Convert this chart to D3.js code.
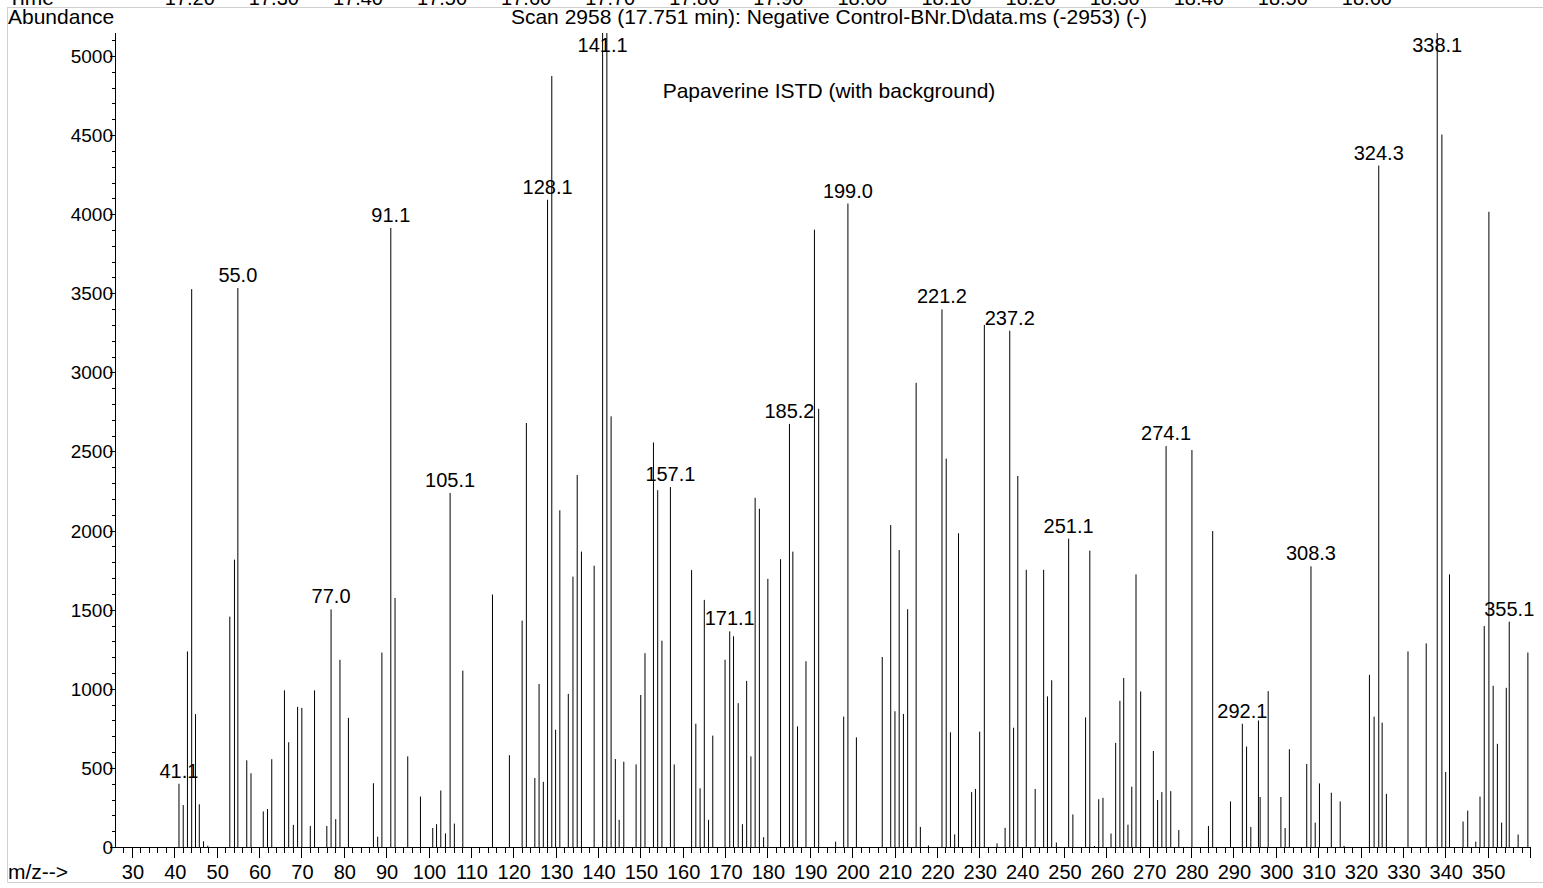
<!DOCTYPE html>
<html>
<head>
<meta charset="utf-8">
<script src="https://cdn.jsdelivr.net/npm/d3@7"></script>
<style>
  html, body { margin: 0; padding: 0; background: #fff; }
  svg { display: block; font-family: "Liberation Sans", Arial, Helvetica, sans-serif; }
</style>
</head>
<body>
<svg id="chart" width="1543" height="888"></svg>
<script>
// ---------- data ----------
const mz = [
  41.1, 42.1, 43.1, 44.1, 45.0, 45.9, 46.9, 47.9, 53.1, 54.2, 55.0, 57.1, 58.1, 61.0, 62.0, 63.0,
  66.0, 67.0, 68.1, 69.1, 70.1, 72.1, 73.1, 76.0, 77.0, 78.1, 79.1, 81.1, 87.0, 88.0, 89.0, 91.1,
  92.1, 95.1, 98.1, 101.0, 101.9, 102.9, 104.0, 105.1, 106.1, 108.1, 115.1, 119.1, 122.1, 123.1,
  125.1, 126.1, 127.1, 128.1, 129.1, 130.0, 131.0, 133.0, 134.1, 135.1, 136.1, 139.1, 141.1, 142.1,
  143.1, 144.1, 145.0, 146.1, 149.0, 150.1, 151.1, 153.1, 154.1, 155.1, 157.1, 158.0, 162.1, 163.1,
  164.1, 165.1, 166.1, 167.1, 170.0, 171.1, 172.0, 173.1, 174.1, 175.1, 176.1, 177.1, 178.1, 179.1,
  180.1, 183.1, 185.2, 186.0, 187.1, 189.1, 191.1, 192.1, 196.1, 198.0, 199.0, 201.0, 207.1, 209.1,
  210.1, 211.1, 212.1, 213.1, 215.1, 216.1, 218.0, 221.2, 222.2, 223.2, 224.2, 225.1, 228.2, 229.1,
  230.1, 231.2, 234.2, 236.1, 237.2, 238.1, 239.1, 241.1, 243.2, 245.2, 246.1, 247.1, 248.2, 251.1,
  252.1, 255.1, 256.1, 257.2, 258.2, 259.2, 261.1, 262.2, 263.2, 264.1, 265.1, 266.0, 267.0, 268.1,
  271.1, 272.1, 273.1, 274.1, 275.2, 277.1, 280.2, 284.1, 285.1, 289.3, 292.1, 293.1, 294.1, 295.9,
  296.3, 298.2, 301.2, 302.2, 303.2, 307.3, 308.3, 309.3, 310.3, 313.1, 315.2, 316.1, 322.1, 323.2,
  324.3, 325.1, 326.1, 331.2, 335.5, 338.1, 339.2, 340.1, 341.0, 344.2, 345.3, 347.2, 348.2, 349.2,
  350.3, 351.3, 352.3, 353.3, 354.4, 355.1, 357.2, 359.5
];
const abundance = [
  400, 265, 1236, 3526, 840, 270, 36, 8, 1456, 1816, 3533, 548, 466, 225, 240, 555,
  990, 662, 140, 886, 879, 133, 990, 133, 1502, 176, 1183, 816, 403, 65, 1229, 3913,
  1574, 573, 319, 120, 144, 357, 86, 2238, 148, 1115, 1596, 580, 1431, 2680,
  436, 1030, 412, 4091, 4873, 741, 2128, 968, 1709, 2351, 1867, 1778, 5150, 5150,
  2722, 556, 172, 539, 522, 961, 1225, 2557, 2255, 1304, 2275, 522, 1750, 779,
  371, 1562, 172, 704, 1184, 1363, 1332, 909, 144, 1050, 573, 2207, 2138, 62,
  1695, 1819, 2674, 1867, 762, 1174, 3902, 2770, 34, 824, 4067, 693, 1201, 2035,
  858, 1877, 841, 1503, 2934, 127, 10, 3398, 2455, 725, 80, 1983, 347, 367,
  729, 3300, 23, 121, 3263, 754, 2345, 1752, 367, 1752, 952, 1054, 28, 1949,
  206, 819, 1873, 6, 302, 311, 85, 658, 924, 1068, 141, 381, 1723, 983,
  607, 297, 347, 2534, 353, 107, 2509, 133, 1997, 288, 779, 635, 127, 800,
  316, 985, 316, 120, 618, 525, 1774, 154, 402, 343, 288, 7, 1088, 824,
  4307, 786, 336, 1236, 1287, 5150, 4503, 474, 1723, 161, 230, 34, 319, 1397,
  4015, 1019, 652, 154, 1006, 1424, 79, 1229
];
const peakLabels = ["41.1", "55.0", "77.0", "91.1", "105.1", "128.1", "141.1", "157.1", "171.1", "185.2",
  "199.0", "221.2", "237.2", "251.1", "274.1", "292.1", "308.3", "324.3", "338.1", "355.1"];
const xTickLabels = d3.range(30, 351, 10);
const yTickLabels = d3.range(0, 5001, 500);
const timeTickLabels = ["17.20", "17.30", "17.40", "17.50", "17.60", "17.70", "17.80", "17.90",
  "18.00", "18.10", "18.20", "18.30", "18.40", "18.50", "18.60"];
const titleText = "Scan 2958 (17.751 min): Negative Control-BNr.D\\data.ms (-2953) (-)";
const subtitleText = "Papaverine ISTD (with background)";

// ---------- layout ----------
const W = 1543, H = 888;
const plotLeft = 115, plotRight = 1530, plotBottom = 847, plotTop = 33;
const bigFont = 21, labelFont = 20, yTickFont = 19;

const svg = d3.select("#chart");
const x = d3.scaleLinear().domain([26, 360]).range([plotLeft, plotRight]);
const y = d3.scaleLinear().domain([0, 5145]).range([plotBottom, plotTop]);
const tScale = d3.scaleLinear().domain([17.111, 18.794]).range([plotLeft, plotRight]);

// panel border
const frame = svg.append("g").attr("stroke", "#d0d0d0").attr("stroke-width", 1);
frame.append("line").attr("x1", 7.5).attr("x2", W).attr("y1", 7.5).attr("y2", 7.5);
frame.append("line").attr("x1", 7.5).attr("x2", 7.5).attr("y1", 7).attr("y2", 882.5);
frame.append("line").attr("x1", 7.5).attr("x2", W).attr("y1", 882.5).attr("y2", 882.5);

// cut-off time axis labels at the very top
svg.append("text").attr("x", 8).attr("y", 5).attr("font-size", bigFont).text("Time");
svg.append("g").selectAll("text").data(timeTickLabels).join("text")
  .attr("x", d => tScale(+d)).attr("y", 5).attr("text-anchor", "middle")
  .attr("font-size", labelFont).text(d => d);

// titles
svg.append("text").attr("x", 8).attr("y", 24).attr("font-size", bigFont).text("Abundance");
svg.append("text").attr("x", 829).attr("y", 24).attr("text-anchor", "middle")
  .attr("font-size", bigFont).text(titleText);
svg.append("text").attr("x", 829).attr("y", 98).attr("text-anchor", "middle")
  .attr("font-size", bigFont).text(subtitleText);
svg.append("text").attr("x", 8).attr("y", 879).attr("font-size", bigFont).text("m/z-->");

// bars (sticks)
const bars = mz.map((m, i) => ({ m, v: abundance[i] }));
svg.append("g").attr("stroke", "#000").attr("stroke-width", 1)
  .selectAll("line").data(bars).join("line")
  .attr("x1", d => x(d.m)).attr("x2", d => x(d.m))
  .attr("y1", y(0)).attr("y2", d => y(Math.min(d.v, y.domain()[1])));

// peak labels
const vAt = m => { const i = mz.indexOf(m); return i >= 0 ? abundance[i] : 0; };
svg.append("g").selectAll("text").data(peakLabels).join("text")
  .attr("x", d => x(+d))
  .attr("y", d => Math.max(y(Math.min(vAt(+d), y.domain()[1])) - 6, 52))
  .attr("text-anchor", "middle").attr("font-size", labelFont).attr("fill", "#000")
  .text(d => d);

// x axis
const gx = svg.append("g").attr("stroke", "#000").attr("stroke-width", 1);
gx.append("line").attr("x1", plotLeft).attr("x2", plotRight + 0.5)
  .attr("y1", plotBottom + 0.5).attr("y2", plotBottom + 0.5);
gx.selectAll("line.minor").data(d3.range(28, 361, 2)).join("line").attr("class", "minor")
  .attr("x1", d => Math.round(x(d)) + 0.5).attr("x2", d => Math.round(x(d)) + 0.5)
  .attr("y1", plotBottom).attr("y2", d => plotBottom + (d % 10 === 0 ? 11 : 6));
svg.append("g").selectAll("text").data(xTickLabels).join("text")
  .attr("x", d => x(d) + 1).attr("y", 879).attr("text-anchor", "middle")
  .attr("font-size", labelFont).text(d => d);

// y axis
const gy = svg.append("g").attr("stroke", "#000").attr("stroke-width", 1);
gy.append("line").attr("x1", plotLeft + 0.5).attr("x2", plotLeft + 0.5)
  .attr("y1", plotTop).attr("y2", plotBottom + 1);
gy.selectAll("line.minor").data(d3.range(0, 5101, 100)).join("line").attr("class", "minor")
  .attr("x1", d => plotLeft - (d % 500 === 0 ? 5 : 3)).attr("x2", plotLeft)
  .attr("y1", d => Math.round(y(d)) + 0.5).attr("y2", d => Math.round(y(d)) + 0.5);
svg.append("g").selectAll("text").data(yTickLabels).join("text")
  .attr("x", plotLeft - 2).attr("y", d => y(d) + 7).attr("text-anchor", "end")
  .attr("font-size", yTickFont).text(d => d);
</script>
</body>
</html>
